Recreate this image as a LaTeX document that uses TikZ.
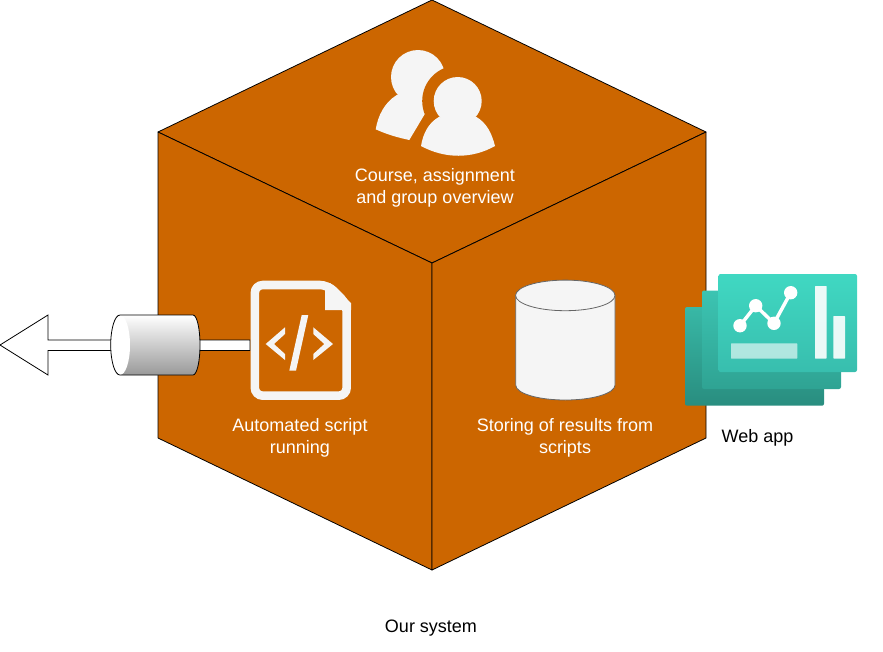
\documentclass[tikz,border=0pt]{standalone}
\usepackage{fontspec}
\setmainfont{Liberation Sans}
\definecolor{cubeface}{HTML}{CC6600}
\definecolor{iconfill}{HTML}{F5F5F5}
\definecolor{dbline}{HTML}{666666}
\tikzset{
  face/.style={fill=cubeface, draw=black, line width=.6pt, line join=round},
  icon/.style={fill=iconfill, draw=none},
  caption/.style={text=white, align=center, font=\fontsize{13.5}{16.5}\selectfont},
  plaintext/.style={text=black, align=center, font=\fontsize{13.5}{16.5}\selectfont},
  panel/.style={rounded corners=1.5pt, draw=none}
}
\begin{document}
\begin{tikzpicture}[x=.75pt, y=-.75pt]
\useasboundingbox (0,0) rectangle (883,651);
% cube
\draw[face] (432,0) -- (706,132) -- (432,263) -- (158,132) -- cycle;
\draw[face] (158,132) -- (432,263) -- (432,570) -- (158,438) -- cycle;
\draw[face] (432,263) -- (706,132) -- (706,438) -- (432,570) -- cycle;
% users
\fill[icon] (418,77) circle (27);
\fill[icon] (396.7,95) .. controls (384,103) and (378,116) .. (375.7,129.3)
  .. controls (388,135) and (400,138) .. (409.3,140) -- (426,112) -- (432,90) -- cycle;
\fill[cubeface] (457.7,101) circle (35.5);
\draw[cubeface, line width=8.5pt, fill=cubeface, line join=round] (439.3,116.7)
  .. controls (428,123) and (423,134) .. (421,146)
  .. controls (445,159) and (472,159) .. (495,146)
  .. controls (492,134) and (487,123) .. (476,116.7) -- cycle;
\fill[icon] (457.7,101) circle (24);
\fill[icon] (439.3,116.7) .. controls (428,123) and (423,134) .. (421,146)
  .. controls (445,159) and (472,159) .. (495,146)
  .. controls (492,134) and (487,123) .. (476,116.7)
  -- (457.7,124) -- cycle;
\node[caption] (overview) at (435,188) {Course, assignment\\and group overview};
% arrow and pipe
\draw[fill=white, line width=.6pt, line join=miter] (0,345) -- (48,315) -- (48,340) -- (250,340)
  -- (250,350.5) -- (48,350.5) -- (48,375) -- cycle;
\shade[top color=white, bottom color=black!40]
  (120,315) -- (193,315) .. controls (196.9,315) and (200,328.4) .. (200,345)
  .. controls (200,361.6) and (196.9,375) .. (193,375) -- (120,375)
  .. controls (114.9,375) and (110.7,361.6) .. (110.7,345)
  .. controls (110.7,328.4) and (114.9,315) .. (120,315) -- cycle;
\fill[white] (120,315) .. controls (125.5,315) and (130,328.4) .. (130,345)
  .. controls (130,361.6) and (125.5,375) .. (120,375)
  .. controls (114.9,375) and (110.7,361.6) .. (110.7,345)
  .. controls (110.7,328.4) and (114.9,315) .. (120,315) -- cycle;
\draw[line width=.6pt]
  (120,315) -- (193,315) .. controls (196.9,315) and (200,328.4) .. (200,345)
  .. controls (200,361.6) and (196.9,375) .. (193,375) -- (120,375)
  .. controls (114.9,375) and (110.7,361.6) .. (110.7,345)
  .. controls (110.7,328.4) and (114.9,315) .. (120,315) -- cycle;
% script file
\draw[iconfill, line width=6.4pt, rounded corners=6pt]
  (254.8,340) -- (254.8,285) -- (328,285) -- (346.7,304) -- (346.7,395.7)
  -- (254.8,395.7) -- cycle;
\fill[icon] (325,283) -- (330,283) -- (351,303) -- (351,310) -- (325,310) -- cycle;
\fill[icon] (285,327.3) -- (265.7,344) -- (285,360) -- (285,354) -- (274,344) -- (285,334) -- cycle;
\fill[icon] (313.3,327.3) -- (333,344) -- (313.3,360) -- (313.3,354) -- (324.3,344) -- (313.3,334) -- cycle;
\fill[icon] (301.7,315) -- (308.3,315) -- (296,370.7) -- (289.3,370.7) -- cycle;
\node[caption] (scriptrun) at (300,438) {Automated script\\running};
% database
\draw[fill=iconfill, draw=dbline, line width=.6pt] (515.7,295.4) -- (515.7,385)
  .. controls (515.7,393.3) and (537.7,400) .. (565.3,400)
  .. controls (592.9,400) and (615,393.3) .. (615,385) -- (615,295.4);
\draw[fill=iconfill, draw=dbline, line width=.6pt] (565.3,295.4) ellipse (49.7 and 15.3);
\node[caption] (storing) at (565,438) {Storing of results from\\scripts};
% web app
\shade[panel, top color={rgb,255:red,56;green,184;blue,166}, bottom color={rgb,255:red,41;green,141;blue,127}]
  (685,307) rectangle (824,405.7);
\shade[panel, top color={rgb,255:red,60;green,196;blue,178}, bottom color={rgb,255:red,47;green,163;blue,147}]
  (702,290.5) rectangle (841,389);
\shade[panel, top color={rgb,255:red,64;green,216;blue,194}, bottom color={rgb,255:red,56;green,190;blue,174}]
  (718.5,274) rectangle (857,372);
\fill[white, opacity=.9, rounded corners=.5pt] (815,286) rectangle (826.7,358.7);
\fill[white, opacity=.9, rounded corners=.5pt] (833.3,316) rectangle (845,358.7);
\fill[white, opacity=.6, rounded corners=.5pt] (731,343.3) rectangle (797.3,358.7);
\draw[white, line width=2.6pt] (740,325.7) -- (755.7,305.7) -- (774,323.3) -- (790.7,292.7);
\foreach \cx/\cy/\cr in {740/325.7/6.7, 755.7/305.7/6.7, 774/323.3/6.7, 790.7/292.7/6.7}
  \fill[white] (\cx,\cy) circle (\cr);
\node[plaintext] (webapp) at (757.5,437.5) {Web app};
\node[plaintext] (oursystem) at (431,628) {Our system};
\end{tikzpicture}
\end{document}
